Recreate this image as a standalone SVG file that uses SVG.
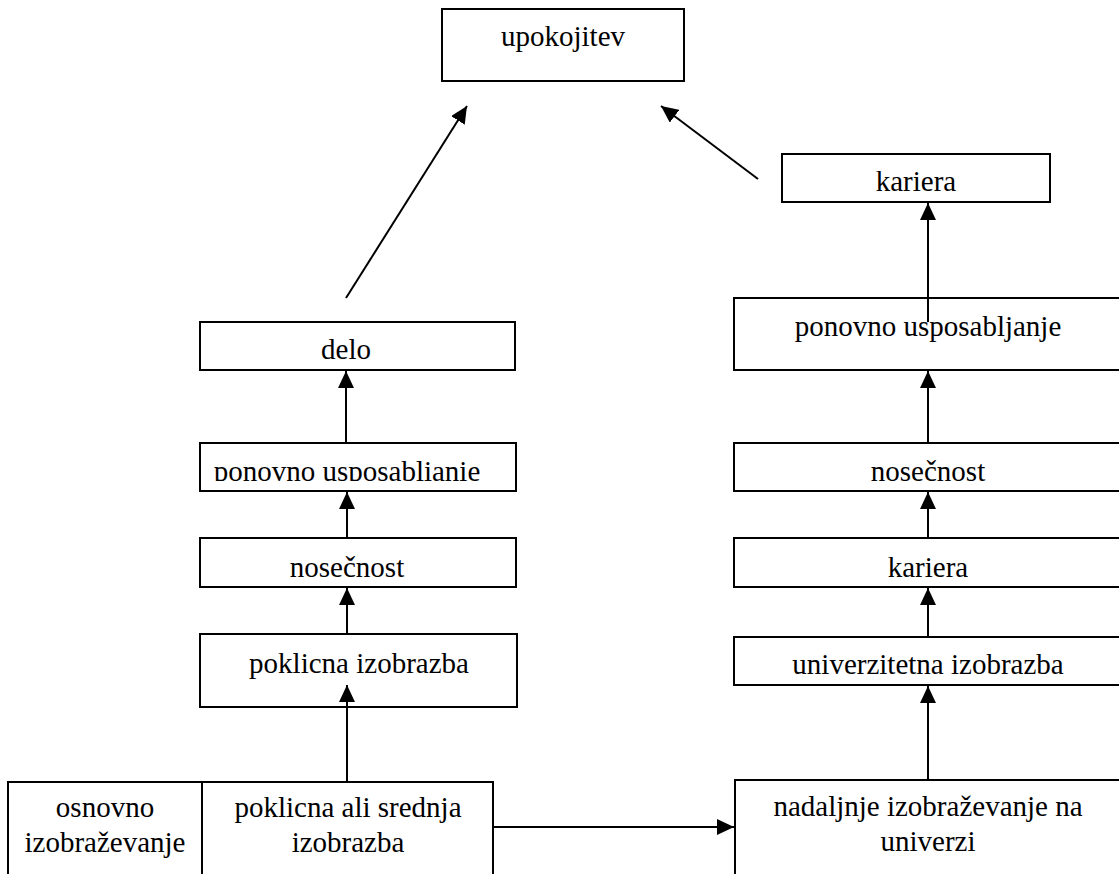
<svg xmlns="http://www.w3.org/2000/svg" width="1119" height="874" viewBox="0 0 1119 874">
<style>
  .box { fill: #fff; stroke: #000; stroke-width: 2; }
  .lbl { font-family: "Liberation Serif", "Times New Roman", serif; font-size: 29px; fill: #000; text-anchor: middle; }
  .conn { stroke: #000; stroke-width: 2; fill: none; }
</style>
<defs>
  <marker id="ah" markerUnits="userSpaceOnUse" markerWidth="18" markerHeight="16" refX="17" refY="8" orient="auto">
    <path d="M0,0 L17,8 L0,16 Z" fill="#000"/>
  </marker>
  <clipPath id="clipL"><rect x="200" y="443" width="316" height="38"/></clipPath>
</defs>
<rect width="1119" height="874" fill="#fff"/>

<g id="n-upokojitev"><rect class="box" x="442" y="9" width="242" height="72"/><text class="lbl" x="563" y="46">upokojitev</text></g>
<g id="n-kariera-top"><rect class="box" x="782" y="154" width="268" height="48"/><text class="lbl" x="916" y="191">kariera</text></g>
<g id="n-ponovno-r"><rect class="box" x="734" y="298" width="400" height="72"/><text class="lbl" x="928" y="336">ponovno usposabljanje</text></g>
<g id="n-nosecnost-r"><rect class="box" x="734" y="443" width="400" height="48"/><text class="lbl" x="928" y="481">nosečnost</text></g>
<g id="n-kariera-r"><rect class="box" x="734" y="538" width="400" height="49"/><text class="lbl" x="928" y="577">kariera</text></g>
<g id="n-univerzitetna"><rect class="box" x="734" y="637" width="400" height="48"/><text class="lbl" x="928" y="674">univerzitetna izobrazba</text></g>
<g id="n-nadaljnje"><rect class="box" x="735" y="780" width="400" height="110"/><text class="lbl" x="928" y="816">nadaljnje izobraževanje na</text><text class="lbl" x="928" y="851">univerzi</text></g>

<g id="n-delo"><rect class="box" x="200" y="322" width="315" height="48"/><text class="lbl" x="346" y="359">delo</text></g>
<g id="n-ponovno-l"><rect class="box" x="200" y="443" width="316" height="48"/><text class="lbl" x="347" y="481" clip-path="url(#clipL)">ponovno usposablianie</text></g>
<g id="n-nosecnost-l"><rect class="box" x="200" y="538" width="316" height="49"/><text class="lbl" x="347" y="577">nosečnost</text></g>
<g id="n-poklicna"><rect class="box" x="200" y="634" width="317" height="73"/><text class="lbl" x="359" y="673">poklicna izobrazba</text></g>
<g id="n-osnovno"><rect class="box" x="8" y="782" width="194" height="110"/><text class="lbl" x="105" y="817">osnovno</text><text class="lbl" x="105" y="852">izobraževanje</text></g>
<g id="n-poklicna-srednja"><rect class="box" x="202" y="782" width="291" height="110"/><text class="lbl" x="348" y="817">poklicna ali srednja</text><text class="lbl" x="348" y="852">izobrazba</text></g>

<g id="connectors">
  <line class="conn" x1="346" y1="298" x2="467" y2="106" marker-end="url(#ah)"/>
  <line class="conn" x1="758" y1="179" x2="661" y2="106" marker-end="url(#ah)"/>
  <line class="conn" x1="928" y1="322" x2="928" y2="203" marker-end="url(#ah)"/>
  <line class="conn" x1="928" y1="443" x2="928" y2="371" marker-end="url(#ah)"/>
  <line class="conn" x1="928" y1="538" x2="928" y2="492" marker-end="url(#ah)"/>
  <line class="conn" x1="928" y1="637" x2="928" y2="588" marker-end="url(#ah)"/>
  <line class="conn" x1="928" y1="780" x2="928" y2="686" marker-end="url(#ah)"/>
  <line class="conn" x1="346" y1="443" x2="346" y2="371" marker-end="url(#ah)"/>
  <line class="conn" x1="347" y1="538" x2="347" y2="492" marker-end="url(#ah)"/>
  <line class="conn" x1="347" y1="634" x2="347" y2="588" marker-end="url(#ah)"/>
  <line class="conn" x1="347" y1="782" x2="347" y2="685" marker-end="url(#ah)"/>
  <line class="conn" x1="493" y1="827" x2="734" y2="827" marker-end="url(#ah)"/>
</g>
</svg>
